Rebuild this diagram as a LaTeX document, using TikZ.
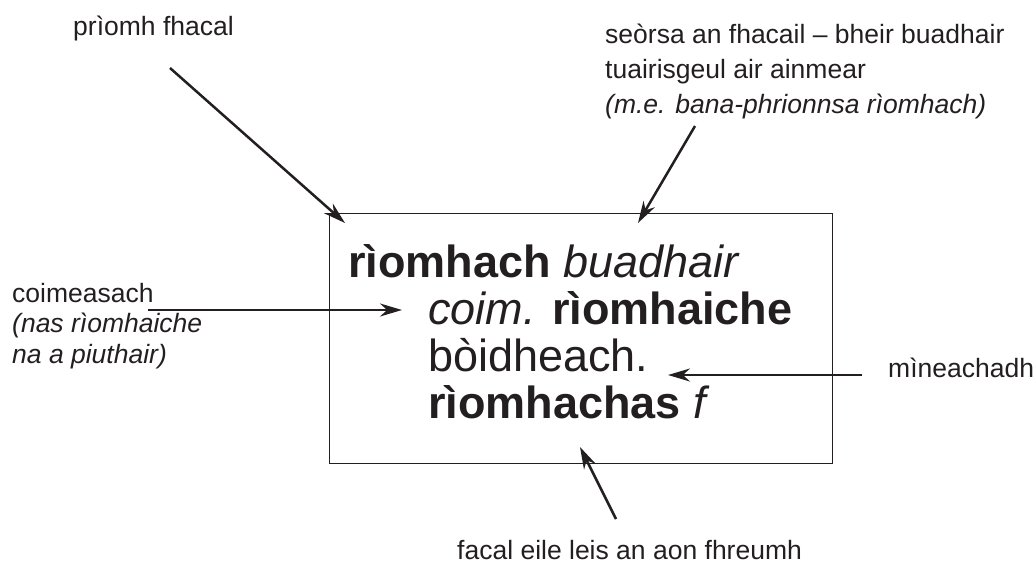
\documentclass[tikz,border=0pt]{standalone}
\usepackage{fontspec}
\setmainfont{Liberation Sans}
\usetikzlibrary{arrows.meta, positioning}
\definecolor{ink}{HTML}{231F20}
\tikzset{
  entry/.style={anchor=base west, inner sep=0pt, text=ink, font=\fontsize{45}{47}\selectfont},
  note/.style={anchor=base west, inner sep=0pt, align=left, text=ink, font=\fontsize{26.5}{35}\selectfont},
  frame/.style={draw=ink, line width=1.3pt, inner sep=0pt, minimum width=503pt, minimum height=250pt},
  pointer/.style={-{Stealth[length=22pt, width=13pt]}, line width=2.5pt, draw=ink},
}

\begin{document}
\begin{tikzpicture}[x=1pt, y=-1pt]
  \useasboundingbox (0,0) rectangle (1035,565);
  \node[frame, anchor=north west] (box) at (329,213) {};

  \node[entry] (head) at (348,277) {\textbf{rìomhach} \textit{buadhair}};
  \node[entry] (comp) at (428,324) {\textit{coim.} \textbf{rìomhaiche}};
  \node[entry] (gloss) at (428,371) {bòidheach.};
  \node[entry] (deriv) at (428,418) {\textbf{rìomhachas} \textit{f}};

  % multi-line notes sit on the baseline of their last line
  \node[note] (headnote) at (73,35) {prìomh fhacal};
  \node[note] (posnote) at (605,113) {seòrsa an fhacail – bheir buadhair\\
    tuairisgeul air ainmear\\ \textit{(m.e. bana-phrionnsa rìomhach)}};
  \node[note, font=\fontsize{26.5}{30.5}\selectfont] (compnote) at (12,363) {coimeasach\\
    \textit{(nas rìomhaiche}\\ \textit{na a piuthair)}};
  \node[note] (glossnote) at (888,377) {mìneachadh};
  \node[note] (rootnote) at (457,559) {facal eile leis an aon fhreumh};

  \coordinate (headfrom) at (170,68);
  \coordinate (headto) at (345,223);
  \coordinate (posfrom) at (695,126);
  \coordinate (posto) at (638,223);
  \coordinate (compfrom) at (148,310);
  \coordinate (compto) at (402,310);
  \coordinate (glossfrom) at (862,375);
  \coordinate (glossto) at (668,375);
  \coordinate (rootfrom) at (616,519);
  \coordinate (rootto) at (580,447);

  \draw[pointer] (headfrom) -- (headto);
  \draw[pointer] (posfrom) -- (posto);
  \draw[pointer] (compfrom) -- (compto);
  \draw[pointer] (glossfrom) -- (glossto);
  \draw[pointer] (rootfrom) -- (rootto);
\end{tikzpicture}
\end{document}
